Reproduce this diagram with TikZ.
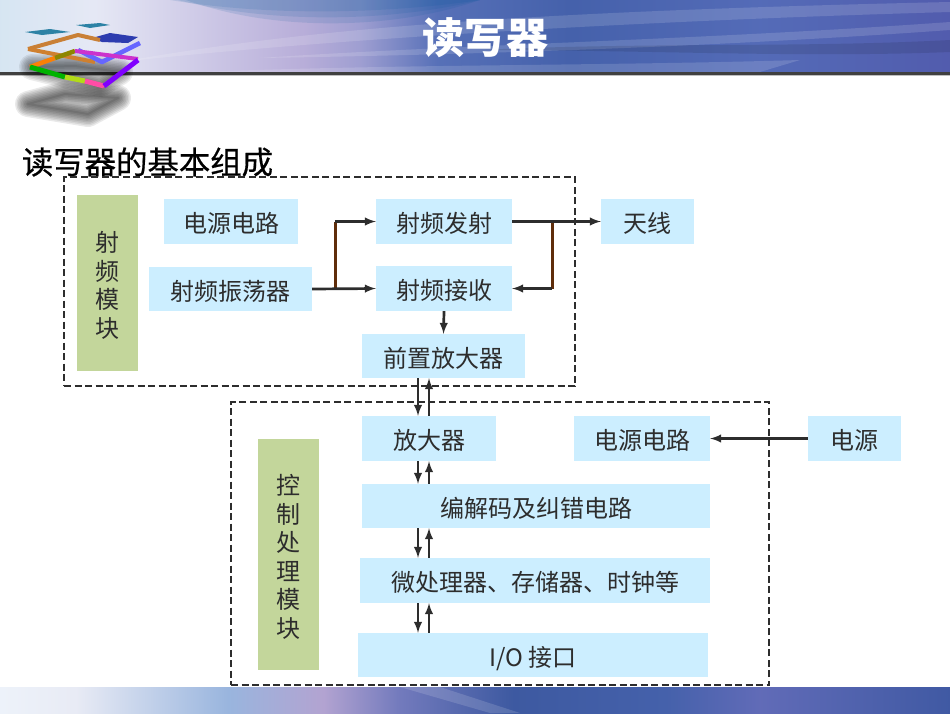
\documentclass[tikz,border=0pt]{standalone}
\usepackage{fontspec}
\usepackage{color}
\usetikzlibrary{calc,arrows}
\setmainfont{Noto Sans CJK SC}
\newfontfamily\headfont[FakeBold=0.6]{Noto Sans CJK SC}
\pgfdeclarehorizontalshading{bannertop}{50bp}{rgb(0bp)=(.84,.90,.95);rgb(25bp)=(.84,.90,.95);rgb(30bp)=(.90,.91,.96);rgb(36bp)=(.80,.78,.90);rgb(41bp)=(.72,.68,.85);rgb(44bp)=(.62,.62,.82);rgb(48bp)=(.34,.44,.72);rgb(55bp)=(.27,.38,.67);rgb(65bp)=(.33,.42,.72);rgb(75bp)=(.32,.36,.68);rgb(100bp)=(.32,.36,.68)}
\pgfdeclarehorizontalshading{bannerlow}{50bp}{rgb(0bp)=(.93,.95,.98);rgb(25bp)=(.93,.95,.98);rgb(29bp)=(.91,.92,.96);rgb(37bp)=(.60,.71,.87);rgb(42bp)=(.70,.64,.82);rgb(46bp)=(.45,.48,.74);rgb(52bp)=(.24,.35,.63);rgb(60bp)=(.27,.38,.67);rgb(65bp)=(.38,.42,.72);rgb(75bp)=(.25,.35,.64);rgb(100bp)=(.25,.35,.64)}
\definecolor{blockblue}{RGB}{204,238,255}
\definecolor{blockgreen}{RGB}{195,214,155}
\definecolor{textgray}{RGB}{45,45,45}
\definecolor{wirebrown}{RGB}{95,45,10}
\definecolor{logoteal}{RGB}{45,130,165}
\definecolor{logoblue}{RGB}{45,60,175}
\tikzset{
  blockbox/.style={fill=blockblue,inner sep=0pt,text=textgray,text height=22pt,text depth=0pt,font=\fontsize{24}{28}\selectfont},
  sidebox/.style={fill=blockgreen,inner sep=0pt,text=textgray,align=center,minimum width=61pt,font=\fontsize{24}{28.5}\selectfont},
  modulebox/.style={draw=textgray,line width=2.6pt,dash pattern=on 7pt off 3.5pt},
  wire/.style={draw=textgray,line width=2.7pt,-latex},
  brownwire/.style={draw=wirebrown,line width=3pt},
  streak/.style={white,fill opacity=.14}
}
\begin{document}
\begin{tikzpicture}[x=1pt,y=-1pt]
\useasboundingbox (0,0) rectangle (950,713);
\shade[shading=bannertop] (0,0) rectangle (950,73);
\foreach \d in {0,8,16}{
  \fill[blue!45!cyan!60!black,fill opacity=.12] (170+\d,0) -- (480,0) .. controls (400,12+\d) and (280,18+\d) .. (170+\d,0);
}
\fill[streak] (120,62) .. controls (300,30) and (500,12) .. (950,2) -- (950,12) .. controls (600,22) and (300,42) .. (120,62);
\fill[streak] (260,58) .. controls (450,45) and (700,40) .. (950,22) -- (950,30) .. controls (700,48) and (450,55) .. (260,58);
\fill[black,fill opacity=.10] (480,50) .. controls (650,42) and (800,48) .. (950,40) -- (950,52) .. controls (800,58) and (650,50) .. (480,50);
\fill[streak] (200,72) .. controls (400,64) and (600,66) .. (800,60) -- (760,72) -- cycle;
\fill[black!75] (0,72) rectangle (950,74.5);
\fill[black!25] (0,74.5) rectangle (950,76);
\shade[shading=bannerlow] (0,687) rectangle (950,713);
\fill[streak] (400,687) -- (440,687) -- (520,713) -- (490,713) -- cycle;
\foreach \w in {26,23,20,17,14,11,8,5,2}{
  \draw[black,opacity=.075,line width=\w pt,line join=round] (32,67) -- (75,66) -- (120,72) -- (100,84) -- cycle;
  \draw[black,opacity=.085,line width=\w pt,line join=round] (28,104) -- (65,94) -- (118,98) -- (88,114) -- cycle;
}
\fill[logoteal] (25,32) -- (50,29) -- (70,32) -- (42,35) -- cycle;
\fill[logoteal] (76,25) -- (100,23) -- (110,25) -- (90,28) -- cycle;
\fill[logoblue] (92,38) -- (110,33) -- (138,37) -- (128,43) -- (102,42) -- cycle;
\draw[brown!85!orange,line width=4pt,line join=round] (28,49) -- (78,35) -- (100,40);
\draw[brown!75!orange,line width=4pt] (28,49) -- (95,62);
\draw[blue!60!white,line width=4.5pt,line join=round] (140,43) -- (102,62) -- (78,50);
\draw[orange!90!brown,line width=4.5pt] (30,67) -- (55,58);
\draw[olive,line width=4.5pt] (55,58) -- (75,51);
\draw[violet!50!magenta!80,line width=4pt] (75,51) -- (138,59);
\draw[green!70!black,line width=5pt] (30,67) -- (65,77);
\draw[yellow!70!green,line width=5pt] (65,77) -- (85,81);
\draw[red!50!magenta!70,line width=5pt] (85,81) -- (104,86);
\draw[blue!50!magenta,line width=5pt] (104,86) -- (138,60);
\node[text=white,font=\fontsize{42}{48}\selectfont\bfseries](title)at(485.5,38){读写器};
\node[text=black,font=\fontsize{31.4}{36}\headfont,inner sep=0pt](subtitle)at(147.5,162){读写器的基本组成};
\node[modulebox,minimum width=511pt,minimum height=209pt,inner sep=0pt](rfmod)at(319.5,281.5){};
\node[modulebox,minimum width=538pt,minimum height=283pt,inner sep=0pt](ctrlmod)at(500,543.5){};
\node[sidebox,minimum height=176pt](rfside)at(107.5,283){\rule{0pt}{25pt}射\\频\\模\\块};
\node[sidebox,minimum height=231pt](ctrlside)at(288.5,554.5){\rule{0pt}{25pt}控\\制\\处\\理\\模\\块};
\node[blockbox,minimum width=134pt,minimum height=45pt](rfpower)at(231,221.5){电源电路};
\node[blockbox,minimum width=163pt,minimum height=44pt](osc)at(230.5,289){射频振荡器};
\node[blockbox,minimum width=136pt,minimum height=45pt](tx)at(444,221.5){射频发射};
\node[blockbox,minimum width=136pt,minimum height=45pt](rx)at(444,288.5){射频接收};
\node[blockbox,minimum width=163pt,minimum height=44pt](preamp)at(443.5,356){前置放大器};
\node[blockbox,minimum width=93pt,minimum height=45pt](antenna)at(647.5,221.5){天线};
\node[blockbox,minimum width=134pt,minimum height=45pt](amp)at(429,438.5){放大器};
\node[blockbox,minimum width=136pt,minimum height=45pt](ctrlpower)at(642,438.5){电源电路};
\node[blockbox,minimum width=93pt,minimum height=45pt](power)at(854.5,438.5){电源};
\node[blockbox,minimum width=348pt,minimum height=44pt](codec)at(536,506){编解码及纠错电路};
\node[blockbox,minimum width=350pt,minimum height=45pt](mcu)at(535,580.5){微处理器、存储器、时钟等};
\node[blockbox,minimum width=350pt,minimum height=44pt](io)at(533,655){I/O 接口};
\coordinate (tap) at (335,0);
\coordinate (back) at (552,0);
\coordinate (dn) at (418,0);
\coordinate (up) at (429,0);
\draw[brownwire] (tap |- osc.east) -- (tap |- tx.west);
\draw[brownwire] (back |- tx.east) -- (back |- rx.east);
\draw[wire] (osc.east) -- (rx.west);
\draw[wire] (tap |- tx.west) -- (tx.west);
\draw[wire] (tx.east) -- (antenna.west);
\draw[wire] (back |- rx.east) -- (rx.east);
\draw[wire] (rx.south) -- (preamp.north);
\draw[wire] (power.west) -- (ctrlpower.east);
\foreach \a/\b in {preamp/amp,amp/codec,codec/mcu,mcu/io}{
  \draw[wire] (\a.south -| dn) -- (\b.north -| dn);
  \draw[wire] (\b.north -| up) -- (\a.south -| up);
}
\end{tikzpicture}
\end{document}
